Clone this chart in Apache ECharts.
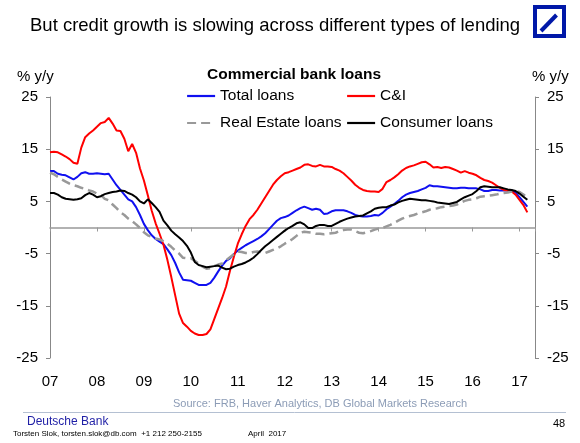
<!DOCTYPE html>
<html>
<head>
<meta charset="utf-8">
<script src="https://cdn.jsdelivr.net/npm/echarts@6/dist/echarts.min.js"></script>
<style>
  html, body { margin: 0; padding: 0; background: #fff; }
  #chart { width: 580px; height: 443px; }
</style>
</head>
<body>
<div id="chart"></div>
<script>
// monthly data, Jan 2007 .. Mar 2017 (% y/y)
const startYear = 2007;
const yearLabels = ['07', '08', '09', '10', '11', '12', '13', '14', '15', '16', '17'];

const totalLoans = [
  10.8, 10.8, 10.3, 10.1, 10.0, 9.6, 9.2, 9.7, 10.4, 10.6, 10.3, 10.3,
  10.4, 10.3, 10.2, 10.3, 9.2, 8.1, 7.2, 6.3, 5.4, 5.0, 3.9, 2.4,
  0.7, -0.5, -1.5, -2.2, -2.7, -3.2, -4.2, -5.3, -6.8, -8.6, -10.0, -10.1,
  -10.2, -10.6, -11.0, -11.0, -11.0, -10.6, -9.6, -8.4, -7.3, -6.4, -5.9, -5.1,
  -4.4, -3.9, -3.4, -3.0, -2.6, -2.2, -1.7, -1.1, -0.3, 0.5, 1.3, 1.8,
  2.0, 2.3, 2.8, 3.3, 3.7, 4.0, 3.7, 3.4, 3.6, 3.4, 2.6, 2.7,
  3.1, 3.3, 3.3, 3.3, 3.1, 2.8, 2.4, 2.2, 2.1, 2.1, 2.2, 2.4,
  2.3, 2.8, 3.5, 4.0, 4.5, 5.1, 5.8, 6.3, 6.6, 6.8, 7.0, 7.3,
  7.6, 8.1, 7.9, 7.9, 7.8, 7.7, 7.6, 7.5, 7.5, 7.6, 7.6, 7.5,
  7.5, 7.5, 7.3, 7.0, 7.0, 7.2, 7.2, 7.1, 7.1, 7.1, 7.1, 6.7,
  5.8, 4.9, 4.0
];

const cAndI = [
  14.4, 14.5, 14.4, 14.0, 13.6, 13.1, 12.4, 12.2, 15.3, 17.3, 18.0, 18.6,
  19.3, 20.0, 20.2, 21.0, 19.9, 18.6, 18.5, 17.0, 14.6, 16.0, 14.3, 11.3,
  9.0, 6.2, 3.2, 0.8, -1.2, -3.3, -6.2, -9.5, -13.0, -16.5, -18.3, -19.0,
  -19.8, -20.3, -20.6, -20.6, -20.4, -19.5, -17.5, -15.5, -13.5, -11.3, -8.3, -5.6,
  -3.1, -1.3, 0.3, 1.6, 2.4, 3.4, 4.6, 5.8, 7.0, 8.2, 9.1, 9.8,
  10.4, 10.6, 10.9, 11.2, 11.5, 12.0, 12.1, 11.8, 11.7, 12.0, 11.7, 11.7,
  11.6, 11.2, 10.9, 10.4, 9.7, 9.0, 8.2, 7.6, 7.2, 7.0, 6.9, 6.9,
  6.8, 7.4, 8.7, 9.1, 9.6, 10.2, 10.9, 11.4, 11.7, 11.9, 12.2, 12.5,
  12.6, 12.1, 11.5, 11.6, 11.4, 11.6, 11.5, 11.2, 10.9, 10.5, 10.8, 10.5,
  10.3, 10.0, 9.5, 9.1, 8.9, 8.6, 8.1, 7.6, 7.2, 7.1, 6.9, 6.3,
  5.3, 4.3, 2.9
];

const realEstate = [
  10.5, 10.2, 9.7, 9.2, 8.8, 8.4, 8.1, 7.9, 7.6, 7.4, 7.1, 6.9,
  6.5, 6.2, 5.5, 5.2, 4.4, 3.7, 2.9, 2.4, 1.7, 1.2, 0.6, -0.1,
  -0.9, -1.5, -1.8, -2.1, -2.3, -2.6, -3.1, -3.7, -4.4, -5.0, -5.8, -5.9,
  -5.9, -6.4, -6.9, -7.5, -7.9, -7.8, -7.4, -7.1, -6.9, -6.3, -5.7, -5.1,
  -4.6, -4.7, -4.9, -4.9, -4.7, -4.6, -4.7, -4.9, -4.6, -4.3, -4.0, -3.6,
  -3.1, -2.7, -2.2, -1.6, -1.0, -0.8, -0.9, -1.0, -1.2, -1.2, -1.3, -1.2,
  -1.1, -1.0, -0.7, -0.5, -0.4, -0.4, -0.7, -1.0, -1.1, -0.9, -0.7, -0.4,
  -0.2, -0.1, 0.2, 0.5, 0.9, 1.3, 1.7, 2.0, 2.2, 2.4, 2.7, 2.9,
  3.1, 3.4, 3.6, 3.7, 3.9, 4.0, 4.1, 4.2, 4.4, 4.8, 5.1, 5.3,
  5.4, 5.6, 5.9, 6.0, 6.1, 6.2, 6.3, 6.5, 6.6, 6.7, 6.9, 7.0,
  6.8, 6.3, 5.8
];

const consumer = [
  6.6, 6.6, 6.3, 5.8, 5.5, 5.4, 5.3, 5.4, 5.6, 6.2, 6.6, 6.3,
  5.8, 6.0, 6.4, 6.6, 6.8, 6.9, 7.1, 7.0, 6.6, 6.3, 5.8, 5.0,
  4.6, 5.4, 4.7, 3.9, 3.0, 1.3, 0.4, -0.6, -1.3, -1.9, -2.6, -3.5,
  -4.8, -6.6, -7.2, -7.4, -7.6, -7.5, -7.4, -7.3, -7.7, -8.0, -7.9, -7.5,
  -7.2, -7.0, -6.7, -6.3, -5.8, -5.1, -4.3, -3.6, -3.0, -2.4, -1.8, -1.2,
  -0.6, -0.1, 0.3, 0.8, 1.0, 0.6, -0.1, -0.1, 0.3, 0.5, 0.5, 0.3,
  0.3, 0.7, 1.1, 1.4, 1.7, 1.9, 2.1, 2.2, 2.3, 2.7, 3.1, 3.6,
  3.8, 3.9, 3.9, 4.2, 4.4, 4.8, 5.1, 5.3, 5.5, 5.4, 5.3, 5.2,
  5.2, 5.1, 5.0, 4.8, 4.7, 4.6, 4.5, 4.7, 4.9, 5.4, 5.8, 6.1,
  6.4, 7.0, 7.7, 7.9, 7.8, 7.7, 7.7, 7.7, 7.5, 7.3, 7.2, 7.0,
  6.5, 5.9, 5.3
];

const font = "'Liberation Sans', Arial, sans-serif";
const toPoints = arr => arr.map((v, i) => [startYear + i / 12, v]);

const chart = echarts.init(document.getElementById('chart'));

function lineSeries(name, data, color, extra) {
  return Object.assign({
    name: name,
    type: 'line',
    data: toPoints(data),
    symbol: 'none',
    showSymbol: false,
    xAxisIndex: 0,
    yAxisIndex: 0,
    lineStyle: { color: color, width: 2 },
    itemStyle: { color: color },
    animation: false
  }, extra || {});
}

const yAxisBase = {
  type: 'value',
  min: -25,
  max: 25,
  interval: 10,
  axisLine: { show: true, lineStyle: { color: '#888', width: 1 } },
  axisTick: { show: true, length: 4, lineStyle: { color: '#888' } },
  axisLabel: { fontSize: 15, color: '#000', fontFamily: font, margin: 12 },
  splitLine: { show: false }
};

const legendBase = {
  orient: 'vertical',
  top: 88,
  padding: 0,
  itemWidth: 28,
  itemHeight: 16,
  itemGap: 11,
  itemStyle: { opacity: 0 },
  lineStyle: { width: 2.2 },
  textStyle: { fontSize: 15.5, color: '#000', fontFamily: font, lineHeight: 16 }
};

const option = {
  backgroundColor: '#fff',
  animation: false,
  title: [
    {
      text: 'But credit growth is slowing across different types of lending',
      left: 30,
      top: 16,
      padding: 0,
      textStyle: { fontSize: 18.5, fontWeight: 'normal', color: '#000', fontFamily: font }
    },
    {
      text: 'Commercial bank loans',
      left: 207,
      top: 67,
      padding: 0,
      textStyle: { fontSize: 15.5, fontWeight: 'bold', color: '#000', fontFamily: font }
    }
  ],
  legend: [
    Object.assign({}, legendBase, { data: ['Total loans', 'Real Estate loans'], left: 186 }),
    Object.assign({}, legendBase, { data: ['C&I', 'Consumer loans'], left: 346 })
  ],
  grid: { left: 50, right: 45, top: 97, bottom: 85, outerBoundsMode: 'none' },
  xAxis: [
    {
      type: 'value',
      min: 2007,
      max: 2017.33,
      interval: 1,
      position: 'bottom',
      axisLine: { show: false, onZero: false },
      axisTick: { show: false },
      splitLine: { show: false },
      axisLabel: {
        fontSize: 15,
        color: '#000',
        fontFamily: font,
        margin: 16,
        formatter: v => (Number.isInteger(v) ? yearLabels[v - startYear] : '')
      }
    },
    {
      type: 'value',
      min: 2007,
      max: 2017.33,
      interval: 1,
      position: 'top',
      axisLine: { show: true, onZero: true, lineStyle: { color: '#999', width: 1.5 } },
      axisTick: { show: true, inside: true, length: 4, lineStyle: { color: '#999' } },
      axisLabel: { show: false },
      splitLine: { show: false }
    }
  ],
  yAxis: [
    Object.assign({}, yAxisBase, { position: 'left' }),
    Object.assign({}, yAxisBase, { position: 'right' })
  ],
  graphic: [
    { type: 'text', left: 17, top: 69, style: { text: '% y/y', font: '15px ' + font, fill: '#000' } },
    { type: 'text', left: 532, top: 69, style: { text: '% y/y', font: '15px ' + font, fill: '#000' } },
    // logo
    { type: 'rect', shape: { x: 535, y: 7, width: 29, height: 29 },
      style: { fill: '#fff', stroke: '#0018a8', lineWidth: 4 } },
    { type: 'line', shape: { x1: 541, y1: 31, x2: 556.5, y2: 15 },
      style: { stroke: '#0018a8', lineWidth: 4 } },
    // footer
    { type: 'text', left: 173, top: 398,
      style: { text: 'Source: FRB, Haver Analytics, DB Global Markets Research', font: '11px ' + font, fill: '#8c9cb6' } },
    { type: 'line', shape: { x1: 23, y1: 412.5, x2: 566, y2: 412.5 },
      style: { stroke: '#b4c0d2', lineWidth: 1 } },
    { type: 'text', left: 27, top: 416,
      style: { text: 'Deutsche Bank', font: '12px ' + font, fill: '#1f1fa6' } },
    { type: 'text', left: 553, top: 418,
      style: { text: '48', font: '11px ' + font, fill: '#000' } },
    { type: 'text', left: 13, top: 430,
      style: { text: 'Torsten Slok, torsten.slok@db.com  +1 212 250-2155', font: '8px ' + font, fill: '#000' } },
    { type: 'text', left: 248, top: 430,
      style: { text: 'April  2017', font: '8px ' + font, fill: '#000' } }
  ],
  series: [
    lineSeries('Total loans', totalLoans, '#1010f0'),
    lineSeries('C&I', cAndI, '#ff0000'),
    lineSeries('Real Estate loans', realEstate, '#999999',
      { lineStyle: { color: '#999999', width: 2.5, type: [9, 5] } }),
    lineSeries('Consumer loans', consumer, '#000000')
  ]
};

chart.setOption(option);
</script>
</body>
</html>
